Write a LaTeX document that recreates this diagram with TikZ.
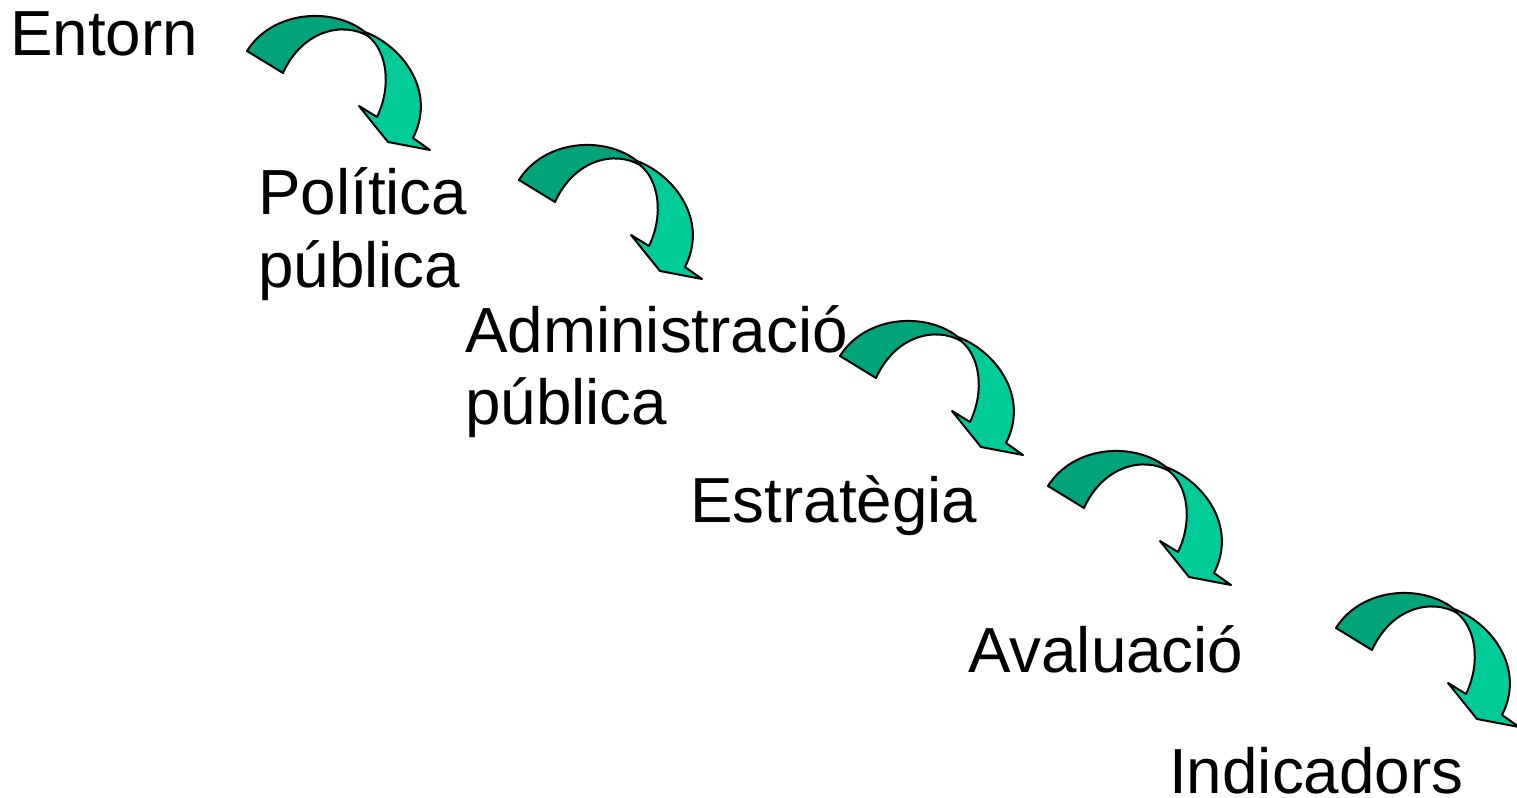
\documentclass[tikz,border=0pt]{standalone}
\usepackage{fontspec}
\setmainfont{Liberation Sans}
\usepackage{tikz}
\usetikzlibrary{positioning,calc}

\definecolor{topgreen}{RGB}{0,163,122}
\definecolor{frontgreen}{RGB}{0,204,153}

\tikzset{
    stage/.style={anchor=base west, inner sep=0pt, align=left,
        font=\fontsize{47.8}{54.75}\selectfont},
    curlarrow/.pic={
        % front face with the head
        \filldraw[fill=frontgreen, line width=1.5pt, line join=round]
            (118,-19) .. controls (155,-5) and (190,40) .. (166,87)
            -- (183,99) -- (141,91) -- (112,55) -- (130,66)
            .. controls (145,35) and (140,0) .. (121,-15) -- cycle;
        % top face
        \filldraw[fill=topgreen, line width=1.5pt, line join=round]
            (0,0) .. controls (25,-40) and (85,-45) .. (118,-19)
            -- (121,-15) .. controls (95,-30) and (55,-20) .. (36,22) -- cycle;
    }
}

\begin{document}
\begin{tikzpicture}[x=0.75pt, y=-0.75pt]
        \useasboundingbox (0,0) rectangle (1517,798);
        % the stages (base of a two line node is its last line)
        \node[stage] (entorn) at (10,56) {Entorn};
        \node[stage] (politica) at (258,288) {Política\\pública};
        \node[stage] (admin) at (465,425) {Administració\\pública};
        \node[stage] (estrategia) at (690,522) {Estratègia};
        \node[stage] (avaluacio) at (968,672) {Avaluació};
        \node[stage] (indicadors) at (1169,793) {Indicadors};
        % draw the curled arrows between them
        \pic at (247,51) {curlarrow};
        \pic at (519,180) {curlarrow};
        \pic at (840,356) {curlarrow};
        \pic at (1048,486) {curlarrow};
        \pic at (1336,628) {curlarrow};
    \end{tikzpicture}
\end{document}
